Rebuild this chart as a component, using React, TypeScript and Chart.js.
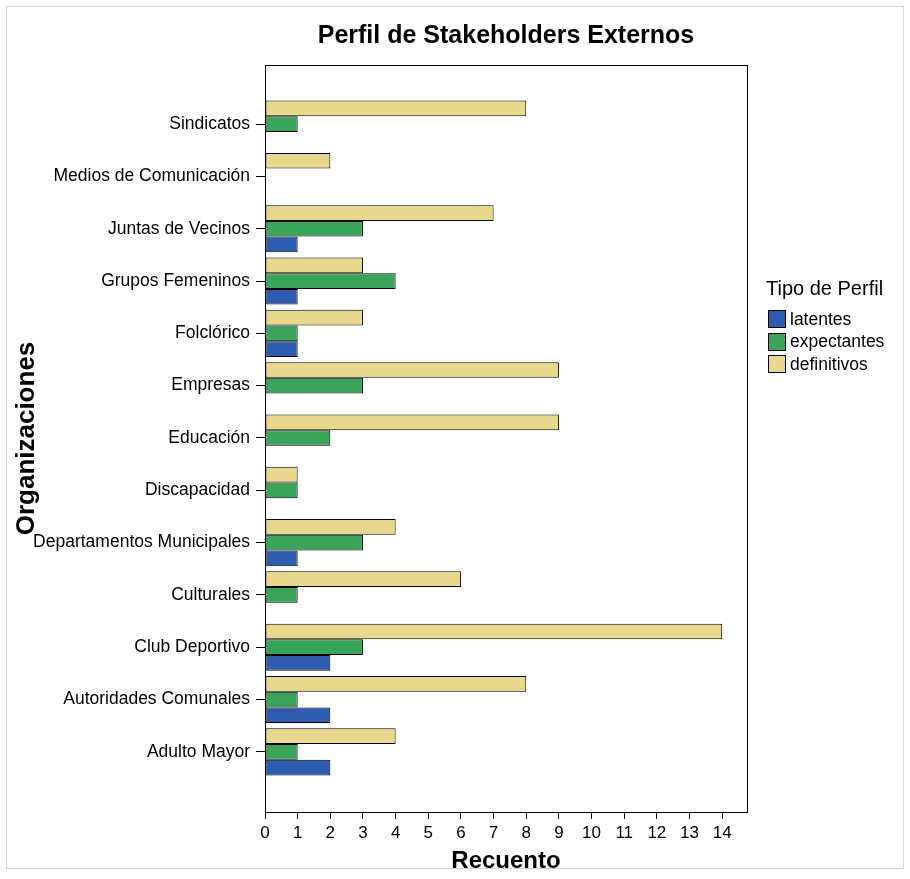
import React, { useEffect, useRef } from "react";
import { Chart, registerables } from "chart.js";

Chart.register(...registerables);

// Organisations, listed top to bottom
const categories = [
  "Sindicatos",
  "Medios de Comunicación",
  "Juntas de Vecinos",
  "Grupos Femeninos",
  "Folclórico",
  "Empresas",
  "Educación",
  "Discapacidad",
  "Departamentos Municipales",
  "Culturales",
  "Club Deportivo",
  "Autoridades Comunales",
  "Adulto Mayor",
];

// Counts per profile type, same order as categories
const definitivos = [8, 2, 7, 3, 3, 9, 9, 1, 4, 6, 14, 8, 4];
const expectantes = [1, 0, 3, 4, 1, 3, 2, 1, 3, 1, 3, 1, 1];
const latentes = [0, 0, 1, 1, 1, 0, 0, 0, 1, 0, 2, 2, 2];

const xTicks = [0, 1, 2, 3, 4, 5, 6, 7, 8, 9, 10, 11, 12, 13, 14];

const FONT = '"Liberation Sans", Arial, Helvetica, sans-serif';

const COLORS = {
  latentes: "#2e5daf",
  expectantes: "#3aa459",
  definitivos: "#e8d88b",
};

const legendItems = [
  { label: "latentes", color: COLORS.latentes },
  { label: "expectantes", color: COLORS.expectantes },
  { label: "definitivos", color: COLORS.definitivos },
];

const toPoints = (values: number[]) => values.map((v, i) => ({ x: v, y: i }));

// Frame around the plotting area
const framePlugin = {
  id: "plotFrame",
  afterDraw(chart: any) {
    const { ctx, chartArea } = chart;
    ctx.save();
    ctx.strokeStyle = "#000";
    ctx.lineWidth = 1;
    ctx.strokeRect(
      Math.round(chartArea.left) + 0.5,
      Math.round(chartArea.top) + 0.5,
      Math.round(chartArea.right - chartArea.left),
      Math.round(chartArea.bottom - chartArea.top)
    );
    ctx.restore();
  },
};

export default function App() {
  const canvasRef = useRef<HTMLCanvasElement | null>(null);

  useEffect(() => {
    document.body.style.margin = "0";
    document.body.style.overflow = "hidden";
    document.documentElement.style.overflow = "hidden";
    const canvas = canvasRef.current;
    if (!canvas) return;

    const barStyle = (color: string) => ({
      backgroundColor: color,
      borderColor: "#000",
      borderWidth: (c: any) => (c.raw && c.raw.x ? 1 : 0),
      borderSkipped: false as const,
      inflateAmount: 0,
      categoryPercentage: 0.9,
      barPercentage: 1.0,
    });

    const chart = new Chart(canvas, {
      type: "bar",
      data: {
        datasets: [
          { label: "definitivos", data: toPoints(definitivos), ...barStyle(COLORS.definitivos) },
          { label: "expectantes", data: toPoints(expectantes), ...barStyle(COLORS.expectantes) },
          { label: "latentes", data: toPoints(latentes), ...barStyle(COLORS.latentes) },
        ],
      },
      options: {
        indexAxis: "y",
        animation: false,
        responsive: false,
        layout: { padding: { left: 0, right: 163, top: 0, bottom: 0 } },
        plugins: {
          legend: { display: false },
          tooltip: { enabled: false },
          title: {
            display: true,
            fullSize: false,
            text: "Perfil de Stakeholders Externos",
            color: "#000",
            font: { family: FONT, size: 25, weight: "bold" },
            padding: { top: 21, bottom: 14 },
          },
        },
        scales: {
          x: {
            type: "linear",
            position: "bottom",
            min: 0,
            max: 14.76,
            afterBuildTicks: (s: any) => {
              s.ticks = xTicks.map((v) => ({ value: v }));
            },
            afterFit: (s: any) => {
              s.height = 67;
            },
            ticks: {
              color: "#000",
              font: { family: FONT, size: 17 },
              padding: 4,
              autoSkip: false,
              maxRotation: 0,
            },
            grid: {
              drawOnChartArea: false,
              drawTicks: true,
              tickLength: 7,
              tickColor: "#000",
              tickWidth: 1,
            },
            border: { display: true, color: "#000", width: 1 },
            title: {
              display: true,
              text: "Recuento",
              color: "#000",
              font: { family: FONT, size: 24, weight: "bold" },
              padding: { top: 0, bottom: 3 },
            },
          },
          y: {
            type: "linear",
            reverse: true,
            offset: false,
            min: -1.13,
            max: 13.15,
            afterBuildTicks: (s: any) => {
              s.ticks = categories.map((_, i) => ({ value: i }));
            },
            afterFit: (s: any) => {
              s.width = 265;
            },
            ticks: {
              color: "#000",
              font: { family: FONT, size: 17.5 },
              padding: 6,
              autoSkip: false,
              callback: (v: any) => categories[v as number] ?? "",
            },
            grid: {
              offset: false,
              drawOnChartArea: false,
              drawTicks: true,
              tickLength: 9,
              tickColor: "#000",
              tickWidth: 1,
            },
            border: { display: true, color: "#000", width: 1 },
            title: {
              display: true,
              text: "Organizaciones",
              color: "#000",
              font: { family: FONT, size: 26, weight: "bold" },
              padding: { top: 11, bottom: 0 },
            },
          },
        },
      },
      plugins: [framePlugin],
    });

    return () => chart.destroy();
  }, []);

  return (
    <div
      style={{
        position: "relative",
        width: 910,
        height: 879,
        background: "#fff",
        fontFamily: FONT,
        overflow: "hidden",
      }}
    >
      <div
        style={{
          position: "absolute",
          left: 6,
          top: 6,
          width: 898,
          height: 863,
          border: "1px solid #d4d4d4",
          boxSizing: "border-box",
          pointerEvents: "none",
        }}
      />
      <canvas ref={canvasRef} width={910} height={879} style={{ display: "block" }} />
      <div style={{ position: "absolute", left: 766, top: 276, color: "#000" }}>
        <div style={{ fontSize: 20, lineHeight: "24px", marginBottom: 8 }}>Tipo de Perfil</div>
        {legendItems.map((it) => (
          <div
            key={it.label}
            style={{ display: "flex", alignItems: "center", height: 22.5, fontSize: 17.5 }}
          >
            <span
              style={{
                display: "inline-block",
                width: 18,
                height: 18,
                background: it.color,
                border: "1px solid #000",
                boxSizing: "border-box",
                marginLeft: 2,
                marginRight: 4,
              }}
            />
            <span>{it.label}</span>
          </div>
        ))}
      </div>
    </div>
  );
}
